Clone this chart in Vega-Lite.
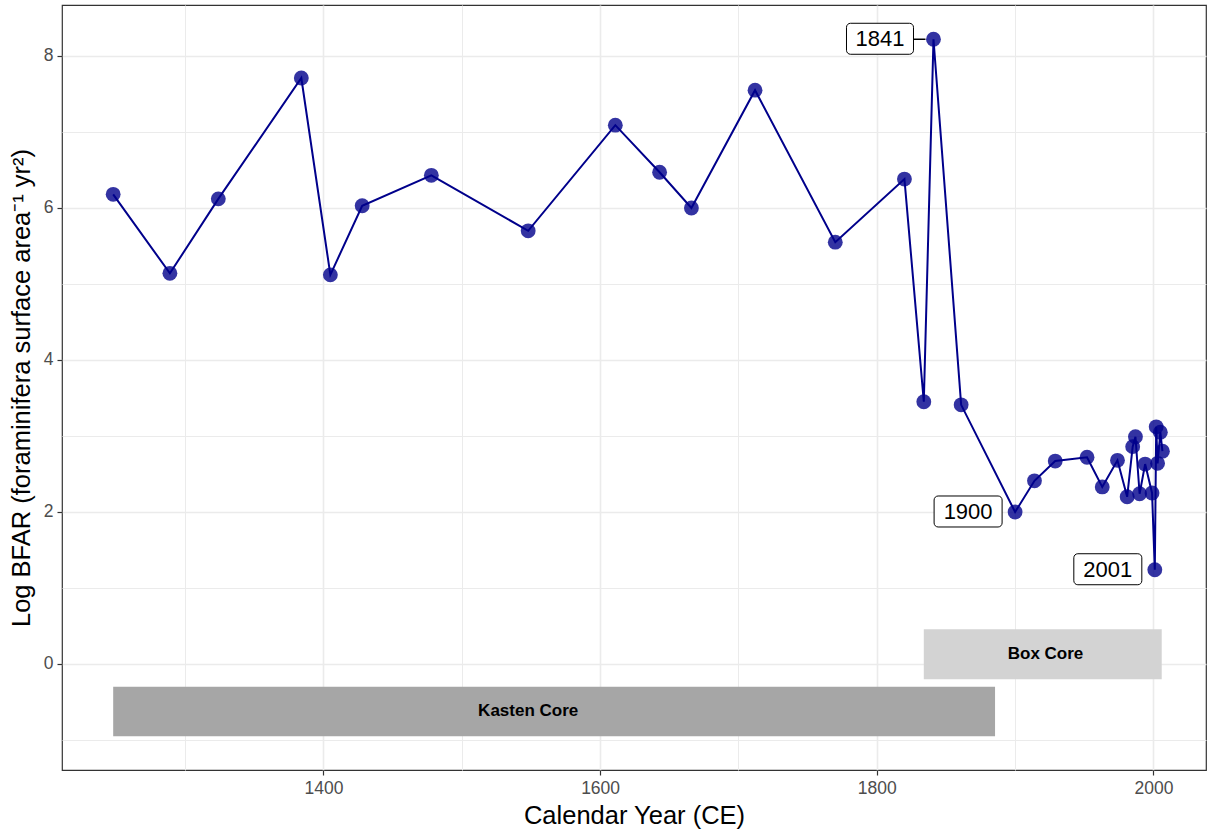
{
  "$schema": "https://vega.github.io/schema/vega-lite/v6.json",
  "autosize": {"type": "none"},
  "padding": {"left": 62, "top": 5, "right": 1, "bottom": 64},
  "width": 1144,
  "height": 765,
  "background": "white",
  "config": {
    "view": {"stroke": "#333333", "strokeWidth": 1.2},
    "font": "Liberation Sans"
  },
  "datasets": {
    "bfar": [
      {"year": 1248, "bfar": 6.18},
      {"year": 1289, "bfar": 5.14},
      {"year": 1324, "bfar": 6.12},
      {"year": 1384, "bfar": 7.71},
      {"year": 1405, "bfar": 5.12},
      {"year": 1428, "bfar": 6.03},
      {"year": 1478, "bfar": 6.43},
      {"year": 1548, "bfar": 5.70},
      {"year": 1611, "bfar": 7.09},
      {"year": 1643, "bfar": 6.47},
      {"year": 1666, "bfar": 6.00},
      {"year": 1712, "bfar": 7.55},
      {"year": 1770, "bfar": 5.55},
      {"year": 1820, "bfar": 6.38},
      {"year": 1834, "bfar": 3.45},
      {"year": 1841, "bfar": 8.22},
      {"year": 1861, "bfar": 3.41},
      {"year": 1900, "bfar": 2.00},
      {"year": 1914, "bfar": 2.41},
      {"year": 1929, "bfar": 2.67},
      {"year": 1952, "bfar": 2.72},
      {"year": 1963, "bfar": 2.33},
      {"year": 1974, "bfar": 2.68},
      {"year": 1981, "bfar": 2.20},
      {"year": 1985, "bfar": 2.86},
      {"year": 1987, "bfar": 2.99},
      {"year": 1990, "bfar": 2.24},
      {"year": 1994, "bfar": 2.63},
      {"year": 1999, "bfar": 2.25},
      {"year": 2001, "bfar": 1.24},
      {"year": 2002, "bfar": 3.12},
      {"year": 2003, "bfar": 2.64},
      {"year": 2005, "bfar": 3.05},
      {"year": 2006.5, "bfar": 2.80}
    ],
    "cores": [
      {"core": "Kasten Core", "start": 1248, "end": 1885.5, "low": -0.95, "high": -0.30, "label_year": 1548, "label_value": -0.625},
      {"core": "Box Core", "start": 1834, "end": 2006, "low": -0.2, "high": 0.456, "label_year": 1922, "label_value": 0.13}
    ]
  },
  "encoding": {
    "x": {
      "type": "quantitative",
      "scale": {"domain": [1211, 2038], "nice": false, "zero": false},
      "axis": {
        "title": "Calendar Year (CE)",
        "titleFont": "Liberation Sans",
        "titleFontSize": 25.5,
        "titleFontWeight": "normal",
        "titleColor": "black",
        "titlePadding": 7,
        "values": [1300, 1400, 1500, 1600, 1700, 1800, 1900, 2000],
        "labelExpr": "datum.value % 200 == 0 ? datum.label : ''",
        "format": "d",
        "labelFont": "Liberation Sans",
        "labelFontSize": 17.5,
        "labelColor": "#4D4D4D",
        "labelPadding": 4,
        "tickSize": 5,
        "tickWidth": 1.2,
        "tickColor": {"condition": {"test": "datum.value % 200 != 0", "value": "transparent"}, "value": "#333333"},
        "domain": false,
        "grid": true,
        "gridColor": "#EBEBEB",
        "gridWidth": {"condition": {"test": "datum.value % 200 != 0", "value": 1}, "value": 1.6}
      }
    },
    "y": {
      "type": "quantitative",
      "scale": {"domain": [-1.395, 8.671], "nice": false, "zero": false},
      "axis": {
        "title": "Log BFAR (foraminifera surface area⁻¹ yr²)",
        "titleFont": "Liberation Sans",
        "titleFontSize": 25.5,
        "titleFontWeight": "normal",
        "titleColor": "black",
        "titlePadding": 9,
        "values": [-1, 0, 1, 2, 3, 4, 5, 6, 7, 8],
        "labelExpr": "datum.value % 2 == 0 ? datum.label : ''",
        "format": "d",
        "labelFont": "Liberation Sans",
        "labelFontSize": 17.5,
        "labelColor": "#4D4D4D",
        "labelPadding": 4,
        "tickSize": 5,
        "tickWidth": 1.2,
        "tickColor": {"condition": {"test": "datum.value % 2 != 0", "value": "transparent"}, "value": "#333333"},
        "domain": false,
        "grid": true,
        "gridColor": "#EBEBEB",
        "gridWidth": {"condition": {"test": "datum.value % 2 != 0", "value": 1}, "value": 1.6}
      }
    }
  },
  "layer": [
    {
      "data": {"name": "cores"},
      "mark": {"type": "rect"},
      "encoding": {
        "x": {"field": "start", "type": "quantitative"},
        "x2": {"field": "end"},
        "y": {"field": "low", "type": "quantitative"},
        "y2": {"field": "high"},
        "color": {"field": "core", "type": "nominal", "scale": {"domain": ["Kasten Core", "Box Core"], "range": ["#A6A6A6", "#D3D3D3"]}, "legend": null}
      }
    },
    {
      "data": {"name": "cores"},
      "mark": {"type": "text", "font": "Liberation Sans", "fontWeight": "bold", "fontSize": 17, "color": "black", "align": "center", "baseline": "middle"},
      "encoding": {
        "x": {"field": "label_year", "type": "quantitative"},
        "y": {"field": "label_value", "type": "quantitative"},
        "text": {"field": "core"}
      }
    },
    {
      "data": {"name": "bfar"},
      "mark": {"type": "line", "color": "#00008B", "strokeWidth": 2},
      "encoding": {
        "x": {"field": "year", "type": "quantitative"},
        "y": {"field": "bfar", "type": "quantitative"}
      }
    },
    {
      "data": {"name": "bfar"},
      "mark": {"type": "point", "filled": true, "color": "#00008B", "opacity": 0.8, "size": 220, "strokeWidth": 0},
      "encoding": {
        "x": {"field": "year", "type": "quantitative"},
        "y": {"field": "bfar", "type": "quantitative"}
      }
    },
    {
      "data": {"name": "bfar"},
      "transform": [{"filter": {"field": "year", "oneOf": [1841]}}],
      "mark": {"type": "rule", "color": "black", "strokeWidth": 1.5, "xOffset": -20, "x2Offset": -8},
      "encoding": {
        "x": {"field": "year", "type": "quantitative"},
        "x2": {"field": "year"},
        "y": {"field": "bfar", "type": "quantitative"}
      }
    },
    {
      "data": {"name": "bfar"},
      "transform": [{"filter": {"field": "year", "oneOf": [1841]}}],
      "mark": {"type": "rect", "fill": "white", "stroke": "black", "strokeWidth": 1, "cornerRadius": 4, "xOffset": -87, "x2Offset": -20, "yOffset": -16, "y2Offset": 15},
      "encoding": {
        "x": {"field": "year", "type": "quantitative"},
        "x2": {"field": "year"},
        "y": {"field": "bfar", "type": "quantitative"},
        "y2": {"field": "bfar"}
      }
    },
    {
      "data": {"name": "bfar"},
      "transform": [{"filter": {"field": "year", "oneOf": [1900, 2001]}}],
      "mark": {"type": "rect", "fill": "white", "stroke": "black", "strokeWidth": 1, "cornerRadius": 4, "xOffset": -81, "x2Offset": -13, "yOffset": -16, "y2Offset": 15},
      "encoding": {
        "x": {"field": "year", "type": "quantitative"},
        "x2": {"field": "year"},
        "y": {"field": "bfar", "type": "quantitative"},
        "y2": {"field": "bfar"}
      }
    },
    {
      "data": {"name": "bfar"},
      "transform": [{"filter": {"field": "year", "oneOf": [1841]}}],
      "mark": {"type": "text", "font": "Liberation Sans", "fontSize": 22, "color": "black", "align": "center", "baseline": "middle", "dx": -53.5, "dy": 0},
      "encoding": {
        "x": {"field": "year", "type": "quantitative"},
        "y": {"field": "bfar", "type": "quantitative"},
        "text": {"field": "year", "type": "quantitative", "format": "d"}
      }
    },
    {
      "data": {"name": "bfar"},
      "transform": [{"filter": {"field": "year", "oneOf": [1900, 2001]}}],
      "mark": {"type": "text", "font": "Liberation Sans", "fontSize": 22, "color": "black", "align": "center", "baseline": "middle", "dx": -47, "dy": 0},
      "encoding": {
        "x": {"field": "year", "type": "quantitative"},
        "y": {"field": "bfar", "type": "quantitative"},
        "text": {"field": "year", "type": "quantitative", "format": "d"}
      }
    }
  ]
}
